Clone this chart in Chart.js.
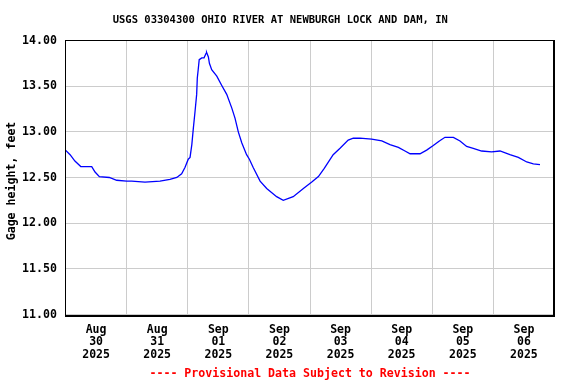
<!DOCTYPE html>
<html>
<head>
<meta charset="utf-8">
<script src="https://cdn.jsdelivr.net/npm/chart.js@4/dist/chart.umd.min.js"></script>
<style>
  html, body { margin: 0; padding: 0; background: #ffffff; }
  canvas { display: block; }
</style>
</head>
<body>
<canvas id="c" width="576" height="384"></canvas>
<script>
// ---- Data (hours since 2025-08-30 00:00, gage height in feet) ----
const hours = [0, 1.8, 3.7, 6.0, 10.3, 11.6, 13.3, 17.2, 20.1, 24.0,
  26.0, 31.2, 37.1, 41.0, 43.7, 45.6, 46.9, 48.2, 48.9, 49.6,
  50.2, 50.85, 51.5, 51.75, 52.1, 52.5, 53.5, 54.4, 55.2, 55.4,
  56.1, 56.5, 57.4, 59.4, 61.3, 63.3, 65.3, 66.55, 67.85, 69.2,
  71.1, 72.2, 73.7, 76.4, 79.0, 82.9, 85.5, 89.4, 93.4, 96.7,
  99.3, 101.6, 105.1, 107.8, 111.0, 113.0, 115.6, 120.2, 124.2, 127.4,
  130.7, 133.3, 135.3, 139.2, 141.8, 144.4, 146.8, 149.0, 152.3, 154.9,
  157.5, 160.1, 163.4, 167.3, 170.6, 174.5, 177.8, 181.1, 183.7, 186.3];
const gage = [12.80, 12.75, 12.68, 12.62, 12.62, 12.56, 12.51, 12.50, 12.47, 12.46,
  12.46, 12.45, 12.46, 12.48, 12.50, 12.54, 12.61, 12.70, 12.72, 12.86,
  13.04, 13.22, 13.41, 13.59, 13.68, 13.79, 13.81, 13.81, 13.86, 13.87,
  13.82, 13.75, 13.68, 13.61, 13.51, 13.41, 13.26, 13.15, 13.00, 12.88,
  12.75, 12.70, 12.61, 12.46, 12.38, 12.29, 12.25, 12.29, 12.38, 12.45,
  12.51, 12.60, 12.75, 12.82, 12.91, 12.93, 12.93, 12.92, 12.90, 12.86,
  12.83, 12.79, 12.76, 12.76, 12.80, 12.85, 12.90, 12.94, 12.94, 12.90,
  12.84, 12.82, 12.79, 12.78, 12.79, 12.75, 12.72, 12.67, 12.65, 12.64];

const dayMonths = ['Aug', 'Aug', 'Sep', 'Sep', 'Sep', 'Sep', 'Sep', 'Sep'];
const dayNums   = ['30', '31', '01', '02', '03', '04', '05', '06'];
const dayYears  = ['2025', '2025', '2025', '2025', '2025', '2025', '2025', '2025'];
const yTicks    = [11.0, 11.5, 12.0, 12.5, 13.0, 13.5, 14.0];

const titleText  = 'USGS 03304300 OHIO RIVER AT NEWBURGH LOCK AND DAM, IN';
const yTitleText = 'Gage height, feet';
const footerText = '---- Provisional Data Subject to Revision ----';

const points = hours.map((h, i) => ({ x: h, y: gage[i] }));

Chart.defaults.font.family = "'DejaVu Sans Mono', 'Liberation Mono', monospace";
Chart.defaults.font.weight = 'bold';
Chart.defaults.color = '#000000';

const borderPlugin = {
  id: 'plotBorder',
  afterDraw(chart) {
    const { ctx, chartArea: a } = chart;
    const l = Math.floor(a.left), t = Math.floor(a.top);
    const r = Math.floor(a.right), b = Math.floor(a.bottom);
    ctx.save();
    ctx.fillStyle = '#000000';
    ctx.fillRect(l, t, r - l + 1, 1);       // top
    ctx.fillRect(l, t, 1, b - t + 3);       // left
    ctx.fillRect(r - 1, t, 2, b - t + 3);   // right (2px)
    ctx.fillRect(l, b + 1, r - l + 1, 2);   // bottom (2px)
    ctx.restore();
  }
};

new Chart(document.getElementById('c'), {
  type: 'line',
  data: {
    datasets: [{
      data: points,
      borderColor: '#0000ff',
      borderWidth: 1.3,
      pointRadius: 0,
      tension: 0,
      fill: false
    }]
  },
  options: {
    responsive: false,
    animation: false,
    events: [],
    layout: { padding: { left: 6, right: 21.5, top: 0, bottom: 0 } },
    plugins: {
      legend: { display: false },
      tooltip: { enabled: false },
      title: {
        display: true,
        text: titleText,
        color: '#000000',
        font: { size: 10.5, weight: 'bold', lineHeight: 1.2 },
        padding: { top: 14, bottom: 13.9 }
      },
      subtitle: {
        display: true,
        text: footerText,
        position: 'bottom',
        fullSize: false,
        color: '#ff0000',
        font: { size: 11.6, weight: 'bold', lineHeight: 1.2 },
        padding: { top: 4, bottom: 2.7 }
      }
    },
    scales: {
      x: {
        type: 'linear',
        min: 0,
        max: 192,
        border: { display: false },
        grid: {
          drawTicks: false,
          lineWidth: 1,
          color: (ctx) => (ctx.tick && ctx.tick.value % 24 === 0) ? '#cccccc' : 'rgba(0,0,0,0)'
        },
        ticks: {
          stepSize: 12,
          autoSkip: false,
          maxRotation: 0,
          minRotation: 0,
          padding: 9,
          color: '#000000',
          font: { size: 11.5, weight: 'bold', lineHeight: 1.1 },
          callback: (v) => {
            const i = (v - 12) / 24;
            if (Number.isInteger(i) && i >= 0 && i < dayMonths.length) {
              return [dayMonths[i], dayNums[i], dayYears[i]];
            }
            return '';
          }
        },
        afterFit: (s) => { s.height = 48.88; }
      },
      y: {
        type: 'linear',
        min: yTicks[0],
        max: yTicks[yTicks.length - 1],
        border: { display: false },
        grid: { drawTicks: false, color: '#cccccc', lineWidth: 1 },
        afterBuildTicks: (s) => { s.ticks = yTicks.map(v => ({ value: v })); },
        ticks: {
          padding: 8.5,
          color: '#000000',
          font: { size: 11.6, weight: 'bold' },
          callback: (v) => Number(v).toFixed(2)
        },
        title: {
          display: true,
          text: yTitleText + ' ',
          color: '#000000',
          font: { size: 11.6, weight: 'bold', lineHeight: 1.0 },
          padding: { top: 0, bottom: 0 }
        },
        afterFit: (s) => { s.width = 59.5; }
      }
    }
  },
  plugins: [borderPlugin]
});
</script>
</body>
</html>
